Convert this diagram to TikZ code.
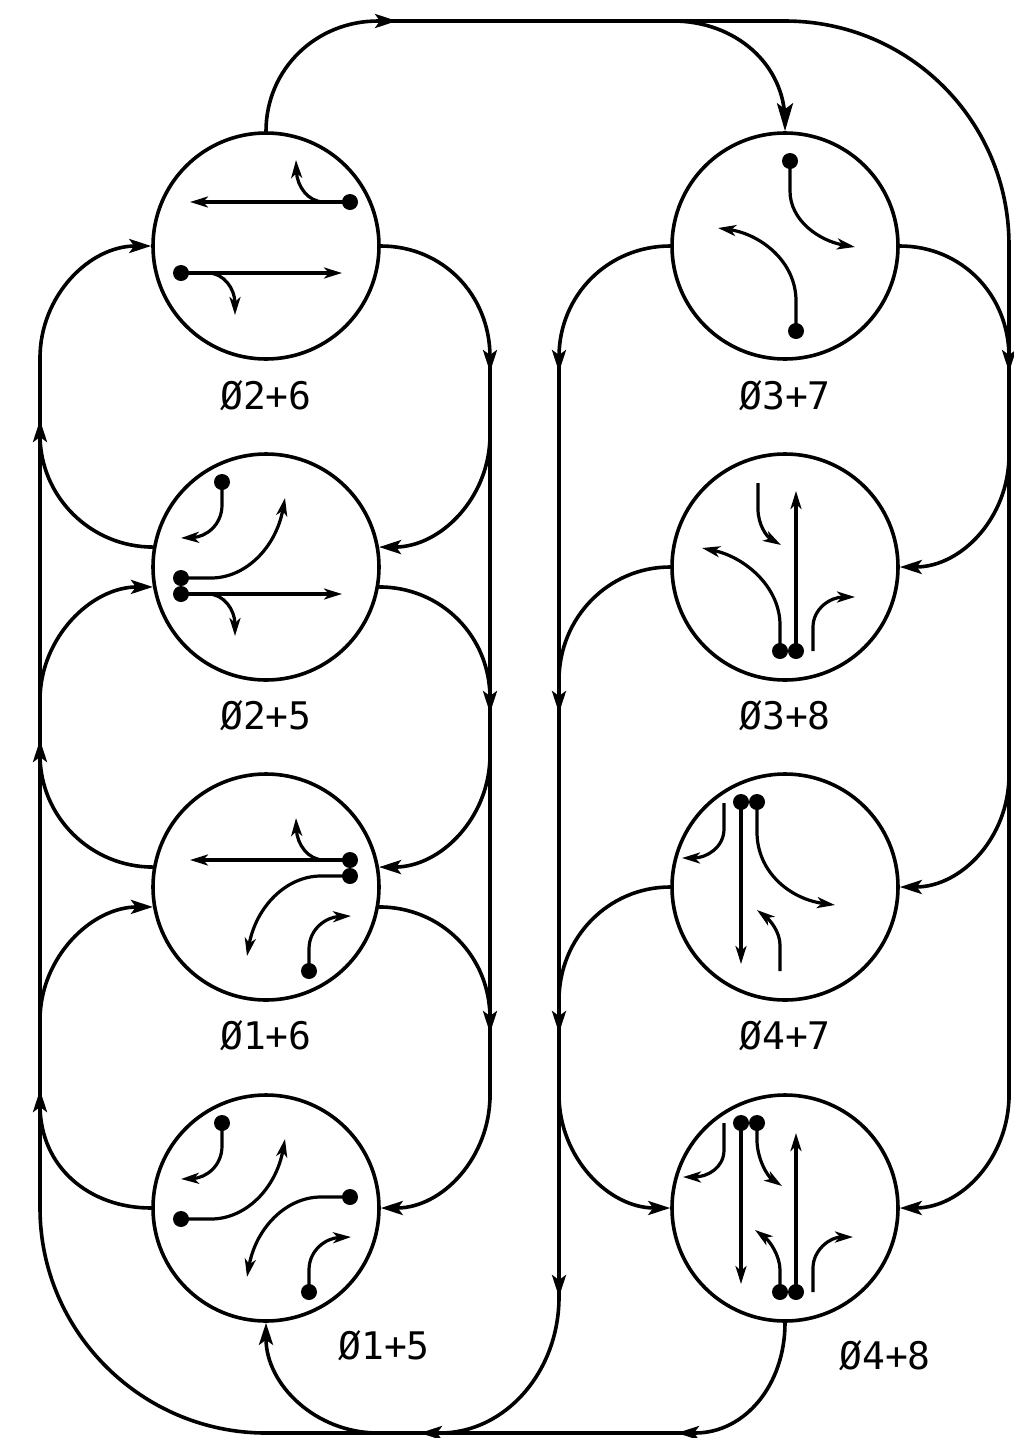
\documentclass[tikz,border=0pt]{standalone}
\usepackage{fontspec}
\setmainfont{DejaVu Sans Mono}
\usetikzlibrary{arrows.meta}
\tikzset{
  phase/.style={circle,draw,line width=3.6pt,minimum size=226pt,inner sep=0pt},
  conn/.style={line width=3.6pt,line cap=butt},
  arr/.style={conn,-{Stealth[length=22pt,width=14pt,inset=5pt]}},
  bigarr/.style={conn,-{Stealth[length=28pt,width=16pt,inset=6pt]}},
  mv/.style={line width=3.2pt,-{Stealth[length=18pt,width=11pt,inset=5pt]}},
  lab/.style={font=\fontsize{38}{42}\selectfont,inner sep=0pt},
}
\newcommand{\sdot}[1]{\fill #1 circle (8pt);}
\begin{document}
\begin{tikzpicture}[x=1pt,y=-1pt]
\useasboundingbox (0,0) rectangle (1013,1438);
% phase circles
\node[phase] (p26) at (266,246) {};
\node[phase] (p25) at (266,567) {};
\node[phase] (p16) at (266,887) {};
\node[phase] (p15) at (266,1208) {};
\node[phase] (p37) at (785,246) {};
\node[phase] (p38) at (785,567) {};
\node[phase] (p47) at (785,887) {};
\node[phase] (p48) at (785,1208) {};
% labels
\node[lab] (l26) at (266,396) {Ø2+6};
\node[lab] (l37) at (785,396) {Ø3+7};
\node[lab] (l25) at (266,716) {Ø2+5};
\node[lab] (l38) at (785,716) {Ø3+8};
\node[lab] (l16) at (266,1036) {Ø1+6};
\node[lab] (l47) at (785,1036) {Ø4+7};
\node[lab] (l15) at (384,1346) {Ø1+5};
\node[lab] (l48) at (885,1356) {Ø4+8};
% junctions
\coordinate (ta) at (378,21);
\coordinate (tb) at (397,21);
\coordinate (tc) at (673,21);
\coordinate (td) at (785,21);
\coordinate (L1) at (40,1208);
\foreach \n/\x in {A/490,B/559,C/1009}{
  \coordinate (\n357) at (\x,357);
  \coordinate (\n372) at (\x,372);
}
% top
\draw[arr] (p26.north) .. controls +(0,-62) and +(-62,0) .. (ta) -- (tb);
\draw[conn] (385,21) -- (td);
\draw[bigarr] (tc) .. controls +(62,0) and +(0,-58) .. (785,122) -- (p37.north);
\draw[conn] (td) .. controls +(124,0) and +(0,-124) .. (1009,245) -- (C357);
% rail 490
\draw[arr] (p26.east) .. controls +(62,0) and +(0,-62) .. (A357) -- (A372);
\draw[conn] (A357) -- (490,1100);
\draw[arr] (490,435) .. controls +(0,62) and +(62,0) .. (p25.10);
\draw[arr] (p25.-10) .. controls +(62,0) and +(0,-62) .. (490,698) -- (490,713);
\draw[arr] (490,755) .. controls +(0,62) and +(62,0) .. (p16.10);
\draw[arr] (p16.-10) .. controls +(62,0) and +(0,-62) .. (490,1018) -- (490,1033);
\draw[arr] (490,1095) .. controls +(0,62) and +(62,0) .. (p15.east);
% rail 40
\draw[conn] (266,1433) .. controls +(-124,0) and +(0,124) .. (L1) -- (40,355);
\draw[arr] (p15.west) .. controls +(-62,0) and +(0,62) .. (40,1105) -- (40,1090);
\draw[arr] (40,1020) .. controls +(0,-62) and +(-62,0) .. (p16.-170);
\draw[arr] (p16.170) .. controls +(-62,0) and +(0,62) .. (40,755) -- (40,740);
\draw[arr] (40,700) .. controls +(0,-62) and +(-62,0) .. (p25.-170);
\draw[arr] (p25.170) .. controls +(-62,0) and +(0,62) .. (40,435) -- (40,420);
\draw[arr] (40,358) .. controls +(0,-62) and +(-62,0) .. (p26.west);
% rail 559
\draw[arr] (p37.west) .. controls +(-62,0) and +(0,-62) .. (B357) -- (B372);
\draw[arr] (B357) -- (559,1297);
\draw[arr] (p38.west) .. controls +(-62,0) and +(0,-62) .. (559,680) -- (559,713);
\draw[arr] (p47.west) .. controls +(-62,0) and +(0,-62) .. (559,1000) -- (559,1033);
\draw[arr] (559,1095) .. controls +(0,62) and +(-62,0) .. (p48.west);
\draw[arr] (559,1285) -- (559,1297) .. controls +(0,75) and +(65,0) .. (440,1433) -- (420,1433);
% rail 1009
\draw[arr] (p37.east) .. controls +(62,0) and +(0,-62) .. (C357) -- (C372);
\draw[conn] (C357) -- (1009,1100);
\draw[arr] (1009,455) .. controls +(0,62) and +(62,0) .. (p38.east);
\draw[arr] (1009,775) .. controls +(0,62) and +(62,0) .. (p47.east);
\draw[arr] (1009,1095) .. controls +(0,62) and +(62,0) .. (p48.east);
% bottom
\draw[arr] (p48.south) .. controls +(0,62) and +(50,0) .. (695,1433) -- (677,1433);
\draw[conn] (690,1433) -- (266,1433);
\draw[arr] (378,1433) .. controls +(-62,0) and +(0,62) .. (p15.south);
% ---- movements
\begin{scope}[shift={(266,246)}]
  \draw[mv] (84,-44) -- (-76,-44);
  \draw[mv] (58,-44) .. controls (42,-44) and (31,-60) .. (30,-86);
  \draw[mv] (-85,27) -- (76,27);
  \draw[mv] (-58,27) .. controls (-42,27) and (-31,43) .. (-31,69);
  \sdot{(84,-44)} \sdot{(-85,27)}
\end{scope}
\begin{scope}[shift={(266,567)}]
  \draw[mv] (-44,-85) -- (-44,-62) .. controls (-44,-42) and (-60,-30) .. (-85,-29);
  \draw[mv] (-85,11) -- (-55,11) .. controls (-20,11) and (10,-20) .. (19,-69);
  \draw[mv] (-85,27) -- (76,27);
  \draw[mv] (-58,27) .. controls (-42,27) and (-31,43) .. (-31,69);
  \sdot{(-44,-85)} \sdot{(-85,11)} \sdot{(-85,27)}
\end{scope}
\begin{scope}[shift={(266,887)}]
  \draw[mv] (84,-27) -- (-76,-27);
  \draw[mv] (58,-27) .. controls (42,-27) and (31,-43) .. (30,-69);
  \draw[mv] (84,-11) -- (55,-11) .. controls (20,-11) and (-10,20) .. (-19,69);
  \draw[mv] (43,84) -- (43,62) .. controls (43,42) and (60,30) .. (85,29);
  \sdot{(84,-27)} \sdot{(84,-11)} \sdot{(43,84)}
\end{scope}
\begin{scope}[shift={(266,1208)}]
  \draw[mv] (-44,-85) -- (-44,-62) .. controls (-44,-42) and (-60,-30) .. (-85,-29);
  \draw[mv] (-85,11) -- (-55,11) .. controls (-20,11) and (10,-20) .. (19,-69);
  \draw[mv] (84,-11) -- (55,-11) .. controls (20,-11) and (-10,20) .. (-19,69);
  \draw[mv] (43,84) -- (43,62) .. controls (43,42) and (60,30) .. (85,29);
  \sdot{(-44,-85)} \sdot{(-85,11)} \sdot{(84,-11)} \sdot{(43,84)}
\end{scope}
\begin{scope}[shift={(785,246)}]
  \draw[mv] (5,-85) -- (5,-55) .. controls (5,-25) and (35,-5) .. (70,1);
  \draw[mv] (11,85) -- (11,55) .. controls (11,15) and (-25,-12) .. (-67,-18);
  \sdot{(5,-85)} \sdot{(11,85)}
\end{scope}
\begin{scope}[shift={(785,567)}]
  \draw[mv] (-27,-84) -- (-27,-58) .. controls (-27,-42) and (-18,-30) .. (-4,-22);
  \draw[mv] (11,84) -- (11,-76);
  \draw[mv] (-5,84) -- (-5,58) .. controls (-5,20) and (-40,-10) .. (-83,-19);
  \draw[mv] (28,84) -- (28,60) .. controls (28,42) and (45,30) .. (70,30);
  \sdot{(-5,84)} \sdot{(11,84)}
\end{scope}
\begin{scope}[shift={(785,887)}]
  \draw[mv] (-61,-84) -- (-61,-58) .. controls (-61,-40) and (-78,-29) .. (-103,-29);
  \draw[mv] (-44,-85) -- (-44,77);
  \draw[mv] (-28,-85) -- (-28,-55) .. controls (-28,-15) and (5,12) .. (50,18);
  \draw[mv] (-5,84) -- (-5,58) .. controls (-5,45) and (-15,33) .. (-28,23);
  \sdot{(-44,-85)} \sdot{(-28,-85)}
\end{scope}
\begin{scope}[shift={(785,1208)}]
  \draw[mv] (-61,-85) -- (-61,-58) .. controls (-61,-40) and (-78,-31) .. (-102,-31);
  \draw[mv] (-44,-85) -- (-44,76);
  \draw[mv] (-28,-85) -- (-28,-68) .. controls (-28,-50) and (-18,-32) .. (-3,-22);
  \draw[mv] (-5,84) -- (-5,62) .. controls (-5,48) and (-15,33) .. (-30,22);
  \draw[mv] (11,84) -- (11,-75);
  \draw[mv] (28,84) -- (28,60) .. controls (28,42) and (45,29) .. (68,29);
  \sdot{(-44,-85)} \sdot{(-28,-85)} \sdot{(-5,84)} \sdot{(11,84)}
\end{scope}
\end{tikzpicture}
\end{document}
